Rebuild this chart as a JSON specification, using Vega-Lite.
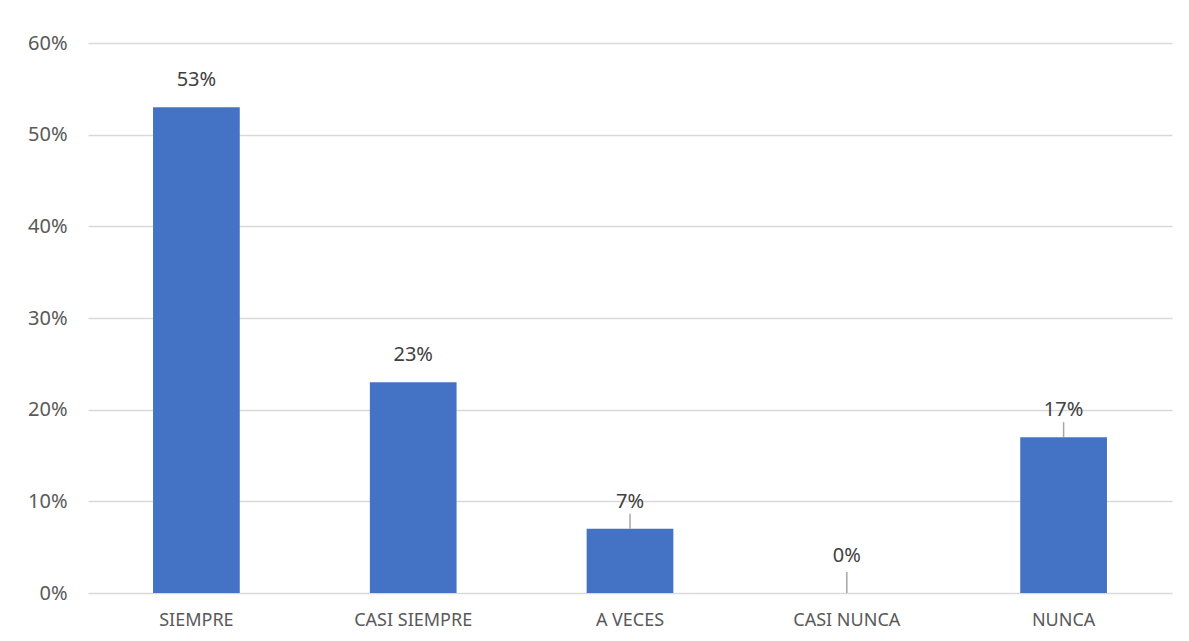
{
  "$schema": "https://vega.github.io/schema/vega-lite/v6.json",
  "width": 1084,
  "height": 550,
  "autosize": {"type": "none"},
  "padding": {"left": 88, "top": 43, "right": 17, "bottom": 48},
  "background": "white",
  "data": {
    "values": [
      {"categoria": "SIEMPRE", "porcentaje": 0.53},
      {"categoria": "CASI SIEMPRE", "porcentaje": 0.23},
      {"categoria": "A VECES", "porcentaje": 0.07},
      {"categoria": "CASI NUNCA", "porcentaje": 0.0},
      {"categoria": "NUNCA", "porcentaje": 0.17}
    ]
  },
  "encoding": {
    "x": {
      "field": "categoria",
      "type": "nominal",
      "sort": null,
      "scale": {"paddingInner": 0.6, "paddingOuter": 0.3},
      "axis": {
        "title": null,
        "labelAngle": 0,
        "ticks": false,
        "domain": false,
        "labelPadding": 18,
        "labelFont": "Noto Sans",
        "labelFontSize": 18,
        "labelColor": "#595959"
      }
    },
    "y": {
      "field": "porcentaje",
      "type": "quantitative",
      "scale": {"domain": [0, 0.6], "nice": false},
      "axis": {
        "title": null,
        "format": ".0%",
        "values": [0, 0.1, 0.2, 0.3, 0.4, 0.5, 0.6],
        "ticks": false,
        "domain": false,
        "labelPadding": 21,
        "labelFont": "Noto Sans",
        "labelFontSize": 20,
        "labelColor": "#595959",
        "gridColor": "#d9d9d9",
        "gridWidth": 1.5
      }
    }
  },
  "layer": [
    {"mark": {"type": "bar", "color": "#4472c4"}},
    {
      "transform": [{"filter": "datum.porcentaje > 0 && datum.porcentaje < 0.2"}],
      "mark": {"type": "rule", "color": "#a6a6a6", "strokeWidth": 1.5, "y2Offset": -15},
      "encoding": {"y2": {"field": "porcentaje"}}
    },
    {
      "transform": [{"filter": "datum.porcentaje == 0"}],
      "mark": {"type": "rule", "color": "#a6a6a6", "strokeWidth": 1.5, "y2Offset": -21},
      "encoding": {"y2": {"field": "porcentaje"}}
    },
    {
      "transform": [{"filter": "datum.porcentaje > 0"}],
      "mark": {"type": "text", "baseline": "middle", "dy": -27, "font": "Noto Sans", "fontSize": 20, "color": "#404040"},
      "encoding": {"text": {"field": "porcentaje", "type": "quantitative", "format": ".0%"}}
    },
    {
      "transform": [{"filter": "datum.porcentaje == 0"}],
      "mark": {"type": "text", "baseline": "middle", "dy": -37, "font": "Noto Sans", "fontSize": 20, "color": "#404040"},
      "encoding": {"text": {"field": "porcentaje", "type": "quantitative", "format": ".0%"}}
    }
  ],
  "config": {"view": {"stroke": null}}
}
